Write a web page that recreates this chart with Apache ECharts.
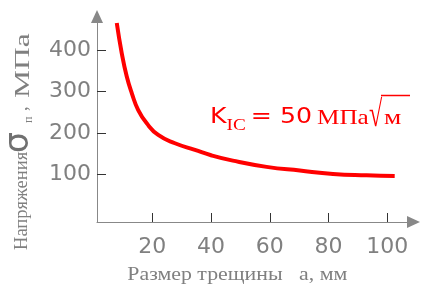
<!DOCTYPE html>
<html>
<head>
<meta charset="utf-8">
<script src="https://cdn.jsdelivr.net/npm/echarts@6/dist/echarts.min.js"></script>
<style>
  html, body { margin: 0; padding: 0; background: #fff; }
  #chart { width: 422px; height: 285px; }
</style>
</head>
<body>
<div id="chart"></div>
<script>
// crack size a, mm
var crackSize = [7.9, 9.6, 11.3, 13, 15.2, 18.1, 22, 27.7, 34.5, 40, 47.4, 58.9, 70.2, 81.5, 92.9, 102.5];
// failure stress, MPa
var stress = [465, 392, 336, 296, 255, 223, 195, 175, 159, 146, 133, 118, 109, 101, 97.6, 96];
var xTicks = [20, 40, 60, 80, 100];
var yTicks = [100, 200, 300, 400];

var grey = '#808080';
var red = '#ff0000';
var numFont = 'DejaVu Sans';
var serif = 'Liberation Serif';

function label(str, size, x, y, opts) {
  opts = opts || {};
  return {
    type: 'text',
    x: x, y: y,
    rotation: opts.rotation || 0,
    scaleX: opts.scaleX || 1,
    style: {
      text: str,
      fontSize: size,
      fontFamily: opts.family || serif,
      fill: opts.color || grey,
      align: 'left',
      verticalAlign: 'middle'
    }
  };
}

var up = Math.PI / 2;

// grid 0: axis lines with arrows, and the curve (full plotting range)
// grid 1: spans first..last tick, only for ticks and tick labels
var x0 = 152.3, x1 = 387.3;   // pixel of 20 and 100
var yTop = 50, yBot = 174.3;  // pixel of 400 and 100
var axisX = 97, axisY = 222;

var chart = echarts.init(document.getElementById('chart'));
chart.setOption({
  animation: false,
  grid: [
    { left: axisX, right: 8.5, top: 16.5, bottom: 285 - axisY },
    { left: x0, right: 422 - x1, top: yTop, bottom: 285 - yBot }
  ],
  xAxis: [{
    gridIndex: 0, type: 'value', min: 1.17, max: 108.9,
    axisLine: { onZero: false, symbol: ['none', 'triangle'], symbolSize: [12, 13], lineStyle: { color: '#888', width: 1 } },
    axisTick: { show: false }, axisLabel: { show: false }, splitLine: { show: false }
  }, {
    gridIndex: 1, type: 'value',
    min: xTicks[0], max: xTicks[xTicks.length - 1], interval: 20,
    offset: axisY - yBot,
    axisLine: { show: false, onZero: false },
    axisTick: { show: true, inside: true, length: 9, lineStyle: { color: '#333', width: 1 } },
    axisLabel: { margin: 14.5, fontFamily: numFont, fontSize: 22, color: grey },
    splitLine: { show: false }
  }],
  yAxis: [{
    gridIndex: 0, type: 'value', min: -15.1, max: 480.9,
    axisLine: { show: true, onZero: false, symbol: ['none', 'triangle'], symbolSize: [12, 13], lineStyle: { color: '#888', width: 1 } },
    axisTick: { show: false }, axisLabel: { show: false }, splitLine: { show: false }
  }, {
    gridIndex: 1, type: 'value',
    min: yTicks[0], max: yTicks[yTicks.length - 1], interval: 100,
    offset: x0 - axisX,
    axisLine: { show: false, onZero: false },
    axisTick: { show: true, inside: true, length: 9, lineStyle: { color: '#333', width: 1 } },
    axisLabel: { margin: 6, fontFamily: numFont, fontSize: 22, color: grey },
    splitLine: { show: false }
  }],
  series: [{
    type: 'line',
    xAxisIndex: 0,
    yAxisIndex: 0,
    smooth: true,
    showSymbol: false,
    lineStyle: { color: red, width: 4 },
    data: crackSize.map(function (a, i) { return [a, stress[i]]; })
  }],
  graphic: [
    // x axis title
    label('Размер трещины   а, мм', 19.5, 127.3, 274.5, { scaleX: 1.12 }),
    // y axis title, read bottom to top
    label('Напряжения', 19.5, 22, 250, { rotation: up, scaleX: 0.95 }),
    label('σ', 33, 19, 153, { rotation: up, family: numFont, color: '#707070' }),
    label('п', 12, 29, 123, { rotation: up }),
    label(',', 18.5, 22, 111, { rotation: up }),
    label('МПа', 22, 23, 98, { rotation: up, scaleX: 1.43 }),
    // K_IC annotation
    {
      type: 'text',
      x: 210, y: 118,
      scaleX: 1.2,
      style: {
        text: '{k|K}{i|IC}{k|\u2009= 50\u2009}{m|МПа}',
        align: 'left',
        verticalAlign: 'middle',
        rich: {
          k: { fontFamily: numFont, fontSize: 21, fill: red },
          i: { fontFamily: serif, fontSize: 16, fill: red, padding: [15, 0, 0, 0] },
          m: { fontFamily: serif, fontSize: 21, fill: red }
        }
      }
    },
    label('√', 37, 369, 116, { color: red, scaleX: 0.65 }),
    label('м', 21, 384, 118, { color: red, scaleX: 1.3 }),
    {
      type: 'line',
      shape: { x1: 381, y1: 95.5, x2: 410, y2: 95.5 },
      style: { stroke: red, lineWidth: 1.5 }
    }
  ]
});
</script>
</body>
</html>
